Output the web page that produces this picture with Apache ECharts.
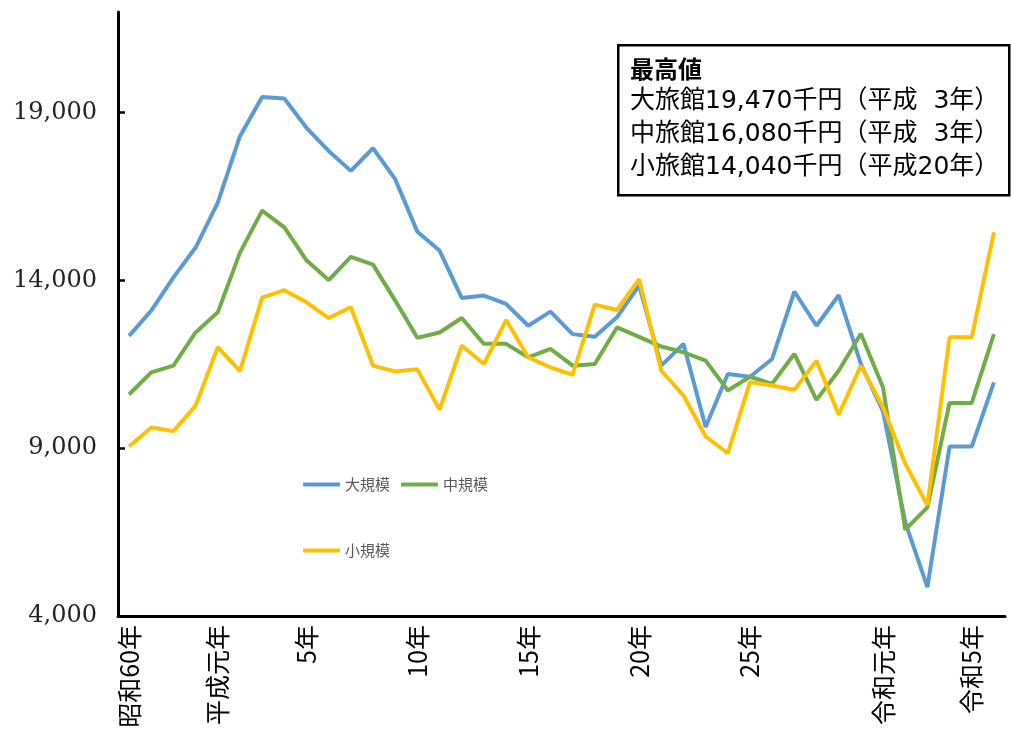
<!DOCTYPE html>
<html lang="ja">
<head>
<meta charset="utf-8">
<title>旅館 売上高の推移</title>
<script src="https://cdn.jsdelivr.net/npm/echarts@6/dist/echarts.min.js"></script>
<style>
  html, body { margin: 0; padding: 0; background: #fff; }
  #chart { width: 1012px; height: 744px; }
</style>
</head>
<body>
<div id="chart"></div>
<script>
// 昭和60年 〜 令和6年
const years = [
  '昭和60年', '昭和61年', '昭和62年', '昭和63年',
  '平成元年', '平成2年', '平成3年', '平成4年', '平成5年', '平成6年', '平成7年', '平成8年', '平成9年', '平成10年',
  '平成11年', '平成12年', '平成13年', '平成14年', '平成15年', '平成16年', '平成17年', '平成18年', '平成19年', '平成20年',
  '平成21年', '平成22年', '平成23年', '平成24年', '平成25年', '平成26年', '平成27年', '平成28年', '平成29年', '平成30年',
  '令和元年', '令和2年', '令和3年', '令和4年', '令和5年', '令和6年'
]
// labels actually printed under the axis (index -> text)
const xLabels = { 0: '昭和60年', 4: '平成元年', 8: '5年', 13: '10年', 18: '15年', 23: '20年', 28: '25年', 34: '令和元年', 38: '令和5年' }

const large = [12350, 13100, 14090, 14980, 16320, 18300, 19470, 19420, 18550, 17860, 17265, 17940, 17020, 15450, 14890, 13480, 13550, 13300, 12650, 13070,
  12400, 12320, 12900, 13850, 11460, 12110, 9630, 11210, 11130, 11660, 13670, 12650, 13560, 11510, 10100, 6800, 4860, 9050, 9050, 10960]
const medium = [10600, 11260, 11460, 12450, 13050, 14830, 16080, 15580, 14600, 14010, 14700, 14470, 13400, 12290, 12450, 12880, 12110, 12110, 11710, 11960,
  11460, 11510, 12600, 12320, 12030, 11860, 11610, 10720, 11130, 10920, 11810, 10440, 11310, 12410, 10810, 6570, 7240, 10350, 10350, 12400]
const small = [9050, 9620, 9510, 10270, 12010, 11300, 13490, 13710, 13350, 12880, 13200, 11460, 11290, 11350, 10150, 12060, 11510, 12820, 11710, 11410,
  11190, 13280, 13120, 14040, 11310, 10570, 9350, 8850, 10970, 10870, 10740, 11610, 10000, 11460, 10220, 8540, 7300, 12310, 12310, 15430]

const yTicks = [4000, 9000, 14000, 19000]
const noteLines = ['大旅館19,470千円（平成\u20073年）', '中旅館16,080千円（平成\u20073年）', '小旅館14,040千円（平成20年）']

const cjk = '"Noto Sans CJK JP", "Noto Sans", sans-serif'

const chart = echarts.init(document.getElementById('chart'))
chart.setOption({
  animation: false,
  grid: { left: 118, right: 7, top: 12, bottom: 128 },
  legend: [
    {
      data: ['大規模', '中規模'],
      left: 298, top: 472,
      icon: 'roundRect', itemWidth: 37, itemHeight: 4, itemGap: 11,
      textStyle: { color: '#595959', fontSize: 15, fontFamily: cjk }
    },
    {
      data: ['小規模'],
      left: 298, top: 538,
      icon: 'roundRect', itemWidth: 37, itemHeight: 4,
      textStyle: { color: '#595959', fontSize: 15, fontFamily: cjk }
    }
  ],
  xAxis: {
    type: 'category',
    data: years,
    boundaryGap: true,
    axisLine: { lineStyle: { color: '#000', width: 3 } },
    axisTick: { inside: true, length: 5, interval: 0, lineStyle: { color: '#000', width: 2 } },
    axisLabel: {
      interval: 0,
      rotate: 90,
      margin: 9,
      color: '#000',
      fontSize: 25,
      fontFamily: cjk,
      formatter: (v, i) => xLabels[i] || ''
    },
    splitLine: { show: false }
  },
  yAxis: {
    type: 'value',
    min: 4000,
    max: 22000,
    axisLine: { show: true, lineStyle: { color: '#000', width: 3 } },
    axisTick: { show: true, inside: true, length: 7, customValues: yTicks, lineStyle: { color: '#000', width: 2.5 } },
    axisLabel: {
      customValues: yTicks,
      margin: 21,
      color: '#222',
      fontSize: 24,
      fontFamily: '"DejaVu Serif", serif',
      formatter: v => v.toLocaleString('en-US')
    },
    splitLine: { show: false }
  },
  series: [
    { name: '大規模', type: 'line', data: large, symbol: 'none', lineStyle: { color: '#5B9BD5', width: 4 }, itemStyle: { color: '#5B9BD5' } },
    { name: '中規模', type: 'line', data: medium, symbol: 'none', lineStyle: { color: '#70AD47', width: 4 }, itemStyle: { color: '#70AD47' } },
    { name: '小規模', type: 'line', data: small, symbol: 'none', lineStyle: { color: '#FFC000', width: 4 }, itemStyle: { color: '#FFC000' } }
  ],
  graphic: [
    {
      type: 'rect',
      left: 617, top: 44,
      shape: { width: 391, height: 150 },
      style: { fill: '#fff', stroke: '#000', lineWidth: 2.5 },
      z: 10
    },
    {
      type: 'text',
      left: 630, top: 52,
      z: 11,
      style: {
        text: '{t|最高値}\n' + noteLines.join('\n'),
        fill: '#000',
        font: '25px "DejaVu Sans", "Noto Sans CJK JP", sans-serif',
        lineHeight: 33,
        rich: { t: { fontWeight: 'bold', fontSize: 24, lineHeight: 33, fontFamily: 'Noto Sans CJK JP' } }
      }
    }
  ]
})
</script>
</body>
</html>
